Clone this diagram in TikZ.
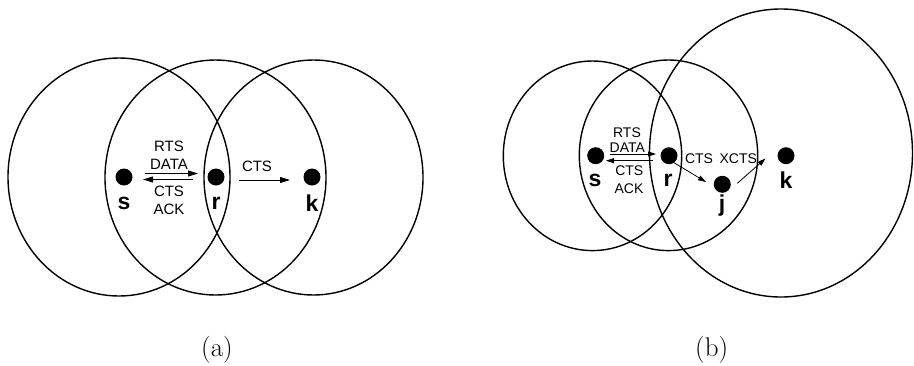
\documentclass[tikz,border=0pt]{standalone}
\usepackage{fontspec}
\setsansfont{Liberation Sans}
\usetikzlibrary{arrows.meta}
\begin{document}
\begin{tikzpicture}[x=1pt,y=-1pt,
  ring/.style={draw,line width=1.4pt},
  dot/.style={circle,fill=black,inner sep=0pt,minimum size=17pt},
  lbl/.style={font=\sffamily\bfseries\fontsize{23}{25}\selectfont,inner sep=0pt},
  msg/.style={font=\sffamily\fontsize{15}{17}\selectfont,inner sep=0pt},
  msgb/.style={font=\sffamily\fontsize{14}{16}\selectfont,inner sep=0pt},
  captext/.style={font=\fontsize{27}{29}\selectfont,inner sep=0pt},
  arr/.style={line width=0.9pt,-{Triangle[length=10pt,width=6pt]}},
  arrb/.style={line width=0.8pt,-{Triangle[length=8pt,width=5pt]}}]
\useasboundingbox (0,0) rectangle (914,365);
% ---------- (a) ----------
\draw[ring] (119,177) ellipse [x radius=111, y radius=119];
\draw[ring] (215.5,177.5) ellipse [x radius=110.5, y radius=117.5];
\draw[ring] (313.5,177.5) ellipse [x radius=109.5, y radius=117.5];
\node[dot] (as) at (124,177) {};
\node[dot] (ar) at (216,177) {};
\node[dot] (ak) at (312,177) {};
\node[lbl] (asl) at (124,203) {s};
\node[lbl] (arl) at (216,203) {r};
\node[lbl] (akl) at (312,203) {k};
\node[msg] (a1) at (169,146) {RTS};
\node[msg] (a2) at (169,164) {DATA};
\node[msg] (a3) at (169,191) {CTS};
\node[msg] (a4) at (169,209) {ACK};
\node[msg] (a5) at (257,166) {CTS};
\coordinate (a1s) at (145,173.5);
\coordinate (a1e) at (198,173.5);
\coordinate (a2s) at (193,179.5);
\coordinate (a2e) at (143,179.5);
\coordinate (a3s) at (239,180);
\coordinate (a3e) at (290,180);
\draw[arr] (a1s) -- (a1e);
\draw[arr] (a2s) -- (a2e);
\draw[arr] (a3s) -- (a3e);
\node[captext] (capa) at (217,350) {(a)};
% ---------- (b) ----------
\draw[ring] (592.5,155.8) ellipse [x radius=89.2, y radius=94.8];
\draw[ring] (668.5,155.3) ellipse [x radius=89.2, y radius=95.3];
\draw[ring] (781,153) ellipse [x radius=131.5, y radius=144];
\node[dot] (bs) at (595.7,155.7) {};
\node[dot] (br) at (669,155.7) {};
\node[dot] (bj) at (722.3,184.3) {};
\node[dot] (bk) at (786,155.7) {};
\node[lbl] (bsl) at (595,180) {s};
\node[lbl] (brl) at (668,180) {r};
\node[lbl] (bjl) at (722,206) {j};
\node[lbl] (bkl) at (786,180) {k};
\node[msgb] (b1) at (627,132.3) {RTS};
\node[msgb] (b2) at (627.3,147.7) {DATA};
\node[msgb] (b3) at (629.3,171) {CTS};
\node[msgb] (b4) at (629,188.3) {ACK};
\node[msgb] (b5) at (699,158.3) {CTS};
\node[msgb] (b6) at (738.3,158.3) {XCTS};
\coordinate (b1s) at (610,154);
\coordinate (b1e) at (656,154);
\coordinate (b2s) at (653,160.7);
\coordinate (b2e) at (606,160.7);
\coordinate (b3s) at (673.3,162.3);
\coordinate (b3e) at (706,182);
\coordinate (b4s) at (737.3,183.3);
\coordinate (b4e) at (765.5,158.5);
\draw[arrb] (b1s) -- (b1e);
\draw[arrb] (b2s) -- (b2e);
\draw[arrb] (b3s) -- (b3e);
\draw[arrb] (b4s) -- (b4e);
\node[captext] (capb) at (711.7,350) {(b)};
\end{tikzpicture}
\end{document}
